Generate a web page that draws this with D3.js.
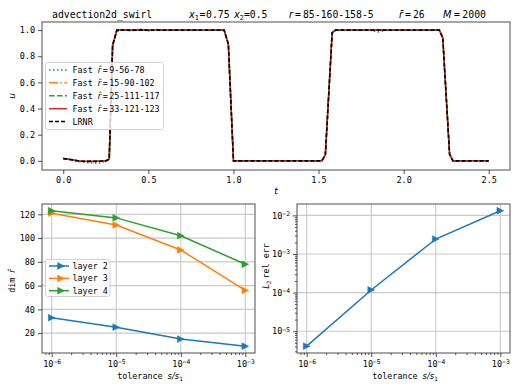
<!DOCTYPE html>
<html><head><meta charset="utf-8">
<script src="https://cdn.jsdelivr.net/npm/d3@7/dist/d3.min.js"></script>
<style>
body{margin:0;background:#fff}
text{font-family:"DejaVu Sans Mono",monospace;fill:#000}
.m{font-family:"DejaVu Sans",sans-serif;font-style:italic}
</style>
</head><body>
<svg id="c" width="519" height="389"></svg>
<script>
// ---------- data ----------
const tValues = [0,0.05,0.1,0.15,0.2,0.25,0.27,0.29,0.315,0.35,0.4,0.45,0.5,0.55,0.6,0.7,0.8,0.9,0.945,0.97,1.0,1.1,1.2,1.3,1.4,1.52,1.54,1.58,1.6,1.7,1.8,1.85,1.9,2.0,2.1,2.21,2.23,2.27,2.29,2.4,2.5];
const lrnrU  = [0.018,0.008,-0.003,-0.004,-0.004,0.0,0.012,0.885,1.0,1.0,1.0,1.0,1.0,1.0,1.0,1.0,1.0,1.0,1.0,0.893,0.0,0.0,0.0,0.0,0.0,0.0,0.046,0.98,1.0,1.0,1.0,1.0,1.0,1.0,1.0,1.0,0.94,0.05,0.0,0.0,0.0];
const fast1U = [0.018,0.006,-0.008,-0.014,-0.02,-0.004,0.012,0.88,0.988,1.008,0.993,1.01,0.994,1.006,1.0,1.0,1.0,1.0,1.0,0.89,0.0,0.0,0.0,0.0,0.0,0.0,0.046,0.98,1.0,1.0,1.0,0.985,1.0,1.0,1.0,1.0,0.94,0.05,0.0,0.0,0.0];
const fast2U = [0.018,0.008,-0.003,-0.005,-0.004,0.0,0.012,0.884,1.0,1.0,1.0,1.0,1.0,1.0,1.0,1.0,1.0,1.0,1.0,0.893,0.0,0.0,0.0,0.0,0.0,0.0,0.046,0.98,1.0,1.0,1.0,1.0,1.0,1.0,1.0,1.0,0.94,0.05,0.0,0.0,0.0];
const fast3U = [0.018,0.008,-0.003,-0.004,-0.004,0.0,0.012,0.885,1.0,1.0,1.0,1.0,1.0,1.0,1.0,1.0,1.0,1.0,1.0,0.893,0.0,0.0,0.0,0.0,0.0,0.0,0.046,0.98,1.0,1.0,1.0,1.0,1.0,1.0,1.0,1.0,0.94,0.05,0.0,0.0,0.0];
const fast4U = [0.018,0.008,-0.003,-0.004,-0.004,0.0,0.012,0.885,1.0,1.0,1.0,1.0,1.0,1.0,1.0,1.0,1.0,1.0,1.0,0.893,0.0,0.0,0.0,0.0,0.0,0.0,0.046,0.98,1.0,1.0,1.0,1.0,1.0,1.0,1.0,1.0,0.94,0.05,0.0,0.0,0.0];
const topLabels = ["9-56-78","15-90-102","25-111-117","33-121-123"];
const tTicks = [0,0.5,1.0,1.5,2.0,2.5];
const uTicks = [0,0.2,0.4,0.6,0.8,1.0];

const tolerances = [1e-6,1e-5,1e-4,1e-3];
const layer2 = [33,25,15,9];
const layer3 = [121,111,90,56];
const layer4 = [123,117,102,78];
const layerNames = ["layer 2","layer 3","layer 4"];
const dimTicks = [20,40,60,80,100,120];
const relErr = [4.1e-6,1.17e-4,2.44e-3,1.32e-2];
const errTicks = [1e-5,1e-4,1e-3,1e-2];

const C = {blue:"#1f77b4",orange:"#ff7f0e",green:"#2ca02c",red:"#d62728"};
const svg = d3.select("#c");
const FS = 8.5;

function frame(b){
  svg.append("rect").attr("x",b.l).attr("y",b.t).attr("width",b.r-b.l).attr("height",b.b-b.t)
    .attr("fill","none").attr("stroke","#3a3a3a").attr("stroke-width",0.9);
}
function styleAxis(g){
  g.select(".domain").remove();
  g.selectAll(".tick line").attr("stroke","#3a3a3a").attr("stroke-width",0.9);
  g.selectAll("text").attr("font-size",FS).attr("fill","#000").attr("font-family","DejaVu Sans Mono");
}
function logLabel(g){
  g.selectAll(".tick text").each(function(d){
    const t=d3.select(this); t.text(null);
    const e=Math.round(Math.log10(d));
    t.append("tspan").text("10");
    t.append("tspan").attr("dy","-0.45em").attr("font-size","0.75em").text("\u2212"+Math.abs(e));
  });
}
function minorVals(lo,hi){
  const out=[];
  for(let e=-8;e<=0;e++) for(let k=2;k<=9;k++){const v=k*Math.pow(10,e); if(v>=lo&&v<=hi) out.push(v);}
  return out;
}
function rhat(t){ t.append("tspan").attr("class","m").text("r\u0302"); }

// ---------- top chart ----------
const T={l:42,r:510,t:22,b:170};
const xT=d3.scaleLinear().domain([-0.125,2.625]).range([T.l,T.r]);
const yT=d3.scaleLinear().domain([-0.07,1.062]).range([T.b,T.t]);
const lineT=d3.line().x((d,i)=>xT(tValues[i])).y(d=>yT(d));
const topSeries=[
  {u:fast1U,c:C.blue,dash:"1.5,2.5",w:1.5},
  {u:fast2U,c:C.orange,dash:"9,2.5,1.5,2.5",w:1.5},
  {u:fast3U,c:C.green,dash:"5.5,2.5",w:1.5},
  {u:fast4U,c:C.red,dash:null,w:1.5},
  {u:lrnrU,c:"#000",dash:"4,2",w:1.6}
];
const gT=svg.append("g");
topSeries.forEach(s=>{
  gT.append("path").attr("d",lineT(s.u)).attr("fill","none").attr("stroke",s.c)
    .attr("stroke-width",s.w).attr("stroke-dasharray",s.dash);
});
svg.append("g").attr("transform",`translate(0,${T.b})`)
  .call(d3.axisBottom(xT).tickValues(tTicks).tickFormat(d3.format(".1f")).tickSize(4).tickPadding(3)).call(styleAxis);
svg.append("g").attr("transform",`translate(${T.l},0)`)
  .call(d3.axisLeft(yT).tickValues(uTicks).tickFormat(d3.format(".1f")).tickSize(4).tickPadding(3)).call(styleAxis);
frame(T);
svg.append("text").attr("class","m").attr("x",276).attr("y",194).attr("text-anchor","middle").attr("font-size",9).text("t");
svg.append("text").attr("class","m").attr("transform","translate(15,96) rotate(-90)").attr("text-anchor","middle").attr("font-size",9).text("u");

// top legend
const LT={x:45.5,y:62.5,w:118,h:67};
svg.append("rect").attr("x",LT.x).attr("y",LT.y).attr("width",LT.w).attr("height",LT.h).attr("rx",2.5)
  .attr("fill","#fff").attr("fill-opacity",0.8).attr("stroke","#ccc").attr("stroke-width",0.9);
const legRows=[70,82.8,95.8,108.7,121.5];
topSeries.forEach((s,i)=>{
  const y=legRows[i];
  svg.append("line").attr("x1",49).attr("x2",67).attr("y1",y).attr("y2",y).attr("stroke",s.c)
    .attr("stroke-width",s.w).attr("stroke-dasharray",s.dash);
  const t=svg.append("text").attr("x",72.5).attr("y",y+3).attr("font-size",8.4);
  if(i<4){
    t.append("tspan").text("Fast ");
    rhat(t);
    t.append("tspan").attr("dx",1.5).text("=");
    t.append("tspan").attr("dx",1.5).text(topLabels[i]);
  } else t.text("LRNR");
});

// title
const TY=18, TF=9.8;
svg.append("text").attr("x",52).attr("y",TY).attr("font-size",TF).text("advection2d_swirl");
(function(){
  function part(x,build){
    const t=svg.append("text").attr("x",x).attr("y",TY).attr("font-size",TF);
    build(t);
  }
  part(189,t=>{
    t.append("tspan").attr("class","m").text("x");
    t.append("tspan").attr("dy",2).attr("font-size",6.8).text("1");
    t.append("tspan").attr("dy",-2).attr("dx",0.6).text("=");
    t.append("tspan").attr("dx",0.6).text("0.75");
  });
  part(234,t=>{
    t.append("tspan").attr("class","m").text("x");
    t.append("tspan").attr("dy",2).attr("font-size",6.8).text("2");
    t.append("tspan").attr("dy",-2).text("=0.5");
  });
  part(289,t=>{
    t.append("tspan").attr("class","m").text("r");
    t.append("tspan").attr("dx",2).text("=");
    t.append("tspan").attr("dx",2).text("85-160-158-5");
  });
  part(399,t=>{
    t.append("tspan").attr("class","m").text("r\u0304");
    t.append("tspan").attr("dx",2).text("=");
    t.append("tspan").attr("dx",2).text("26");
  });
  part(443,t=>{
    t.append("tspan").attr("class","m").text("M");
    t.append("tspan").attr("dx",2.5).text("=");
    t.append("tspan").attr("dx",2.5).text("2000");
  });
})();

// ---------- marker ----------
function tri(g,x,y,c){
  const h=3.4;
  g.append("path").attr("d",`M${x+h},${y}L${x-h},${y-h}L${x-h},${y+h}Z`).attr("fill",c).attr("stroke",c).attr("stroke-width",0.5);
}

// ---------- bottom left ----------
const BL={l:42,r:255,t:204,b:353};
const xL=d3.scaleLog().domain([Math.pow(10,-6.15),Math.pow(10,-2.85)]).range([BL.l,BL.r]);
const yL=d3.scaleLinear().domain([3.3,128.7]).range([BL.b,BL.t]);
const gBL=svg.append("g");
tolerances.forEach(v=>gBL.append("line").attr("x1",xL(v)).attr("x2",xL(v)).attr("y1",BL.t).attr("y2",BL.b).attr("stroke","#c9c9c9").attr("stroke-width",1.1));
dimTicks.forEach(v=>gBL.append("line").attr("x1",BL.l).attr("x2",BL.r).attr("y1",yL(v)).attr("y2",yL(v)).attr("stroke","#c9c9c9").attr("stroke-width",1.1));
const layerSeries=[{v:layer2,c:C.blue},{v:layer3,c:C.orange},{v:layer4,c:C.green}];
const lineL=d3.line().x((d,i)=>xL(tolerances[i])).y(d=>yL(d));
layerSeries.forEach(s=>{
  gBL.append("path").attr("d",lineL(s.v)).attr("fill","none").attr("stroke",s.c).attr("stroke-width",1.5);
  s.v.forEach((d,i)=>tri(gBL,xL(tolerances[i]),yL(d),s.c));
});
svg.append("g").attr("transform",`translate(0,${BL.b})`)
  .call(d3.axisBottom(xL).tickValues(tolerances).tickSize(4).tickPadding(4)).call(styleAxis).call(logLabel);
svg.append("g").attr("transform",`translate(0,${BL.b})`)
  .call(d3.axisBottom(xL).tickValues(minorVals(xL.domain()[0],xL.domain()[1])).tickSize(2).tickFormat("")).call(styleAxis);
svg.append("g").attr("transform",`translate(${BL.l},0)`)
  .call(d3.axisLeft(yL).tickValues(dimTicks).tickFormat(d3.format("d")).tickSize(4).tickPadding(3)).call(styleAxis);
frame(BL);
// legend
svg.append("rect").attr("x",45.5).attr("y",259.5).attr("width",64.5).attr("height",37).attr("rx",2.5)
  .attr("fill","#fff").attr("fill-opacity",0.8).attr("stroke","#ccc").attr("stroke-width",0.9);
[266,278.4,290.7].forEach((y,i)=>{
  svg.append("line").attr("x1",49).attr("x2",69).attr("y1",y).attr("y2",y).attr("stroke",layerSeries[i].c).attr("stroke-width",1.5);
  tri(svg,61,y,layerSeries[i].c);
  svg.append("text").attr("x",72.5).attr("y",y+3).attr("font-size",8.4).text(layerNames[i]);
});
(function(){
  const t=svg.append("text").attr("x",150).attr("y",379).attr("text-anchor","middle").attr("font-size",8.4);
  t.append("tspan").text("tolerance ");
  t.append("tspan").attr("class","m").text("s/s");
  t.append("tspan").attr("dy",2).attr("font-size",6).text("1");
  const y=svg.append("text").attr("transform","translate(15,281) rotate(-90)").attr("text-anchor","middle").attr("font-size",8.4);
  y.append("tspan").text("dim ");
  rhat(y);
})();

// ---------- bottom right ----------
const BR={l:297,r:510,t:204,b:353};
const xR=d3.scaleLog().domain([Math.pow(10,-6.15),Math.pow(10,-2.85)]).range([BR.l,BR.r]);
const yR=d3.scaleLog().domain([Math.pow(10,-5.565),Math.pow(10,-1.705)]).range([BR.b,BR.t]);
const gBR=svg.append("g");
tolerances.forEach(v=>gBR.append("line").attr("x1",xR(v)).attr("x2",xR(v)).attr("y1",BR.t).attr("y2",BR.b).attr("stroke","#c9c9c9").attr("stroke-width",1.1));
errTicks.forEach(v=>gBR.append("line").attr("x1",BR.l).attr("x2",BR.r).attr("y1",yR(v)).attr("y2",yR(v)).attr("stroke","#c9c9c9").attr("stroke-width",1.1));
const lineR=d3.line().x((d,i)=>xR(tolerances[i])).y(d=>yR(d));
gBR.append("path").attr("d",lineR(relErr)).attr("fill","none").attr("stroke",C.blue).attr("stroke-width",1.5);
relErr.forEach((d,i)=>tri(gBR,xR(tolerances[i]),yR(d),C.blue));
svg.append("g").attr("transform",`translate(0,${BR.b})`)
  .call(d3.axisBottom(xR).tickValues(tolerances).tickSize(4).tickPadding(4)).call(styleAxis).call(logLabel);
svg.append("g").attr("transform",`translate(0,${BR.b})`)
  .call(d3.axisBottom(xR).tickValues(minorVals(xR.domain()[0],xR.domain()[1])).tickSize(2).tickFormat("")).call(styleAxis);
svg.append("g").attr("transform",`translate(${BR.l},0)`)
  .call(d3.axisLeft(yR).tickValues(errTicks).tickSize(4).tickPadding(3)).call(styleAxis).call(logLabel);
svg.append("g").attr("transform",`translate(${BR.l},0)`)
  .call(d3.axisLeft(yR).tickValues(minorVals(yR.domain()[0],yR.domain()[1])).tickSize(2).tickFormat("")).call(styleAxis);
frame(BR);
(function(){
  const t=svg.append("text").attr("x",405).attr("y",379).attr("text-anchor","middle").attr("font-size",8.4);
  t.append("tspan").text("tolerance ");
  t.append("tspan").attr("class","m").text("s/s");
  t.append("tspan").attr("dy",2).attr("font-size",6).text("1");
  const y=svg.append("text").attr("transform","translate(269,266) rotate(-90)").attr("text-anchor","middle").attr("font-size",8.4);
  y.append("tspan").attr("class","m").text("L");
  y.append("tspan").attr("dy",2).attr("font-size",6).text("2");
  y.append("tspan").attr("dy",-2).attr("dx",2).text("rel err");
})();
</script>
</body></html>
